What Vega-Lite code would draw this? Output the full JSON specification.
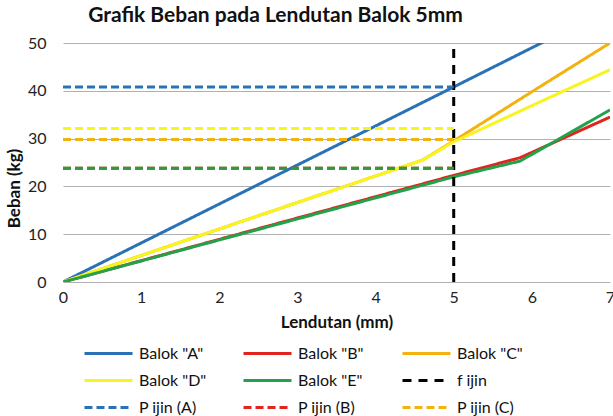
{
  "$schema": "https://vega.github.io/schema/vega-lite/v6.json",
  "autosize": {"type": "none"},
  "width": 547,
  "height": 239,
  "padding": {"left": 63, "top": 43, "right": 3, "bottom": 134},
  "background": "white",
  "config": {
    "font": "Lato",
    "view": {"stroke": null},
    "axis": {"labelFont": "Lato", "titleFont": "Lato", "labelColor": "#222", "titleColor": "#111"}
  },
  "title": {
    "text": "Grafik Beban pada Lendutan Balok 5mm",
    "fontSize": 21,
    "fontWeight": "bold",
    "font": "Lato",
    "color": "#111",
    "anchor": "middle",
    "dx": -61,
    "offset": 9
  },
  "data": {
    "values": [
      {"series": "Balok \"A\"", "x": 0, "y": 0},
      {"series": "Balok \"A\"", "x": 5, "y": 40.8},
      {"series": "Balok \"A\"", "x": 6, "y": 49.0},
      {"series": "Balok \"A\"", "x": 7, "y": 57.2},
      {"series": "Balok \"B\"", "x": 0, "y": 0},
      {"series": "Balok \"B\"", "x": 5, "y": 22.3},
      {"series": "Balok \"B\"", "x": 5.85, "y": 26.0},
      {"series": "Balok \"B\"", "x": 7, "y": 34.5},
      {"series": "Balok \"C\"", "x": 0, "y": 0},
      {"series": "Balok \"C\"", "x": 4.6, "y": 25.5},
      {"series": "Balok \"C\"", "x": 5, "y": 29.5},
      {"series": "Balok \"C\"", "x": 6, "y": 39.8},
      {"series": "Balok \"C\"", "x": 7, "y": 50},
      {"series": "Balok \"D\"", "x": 0, "y": 0},
      {"series": "Balok \"D\"", "x": 4.6, "y": 25.5},
      {"series": "Balok \"D\"", "x": 5, "y": 29.3},
      {"series": "Balok \"D\"", "x": 6, "y": 36.9},
      {"series": "Balok \"D\"", "x": 7, "y": 44.4},
      {"series": "Balok \"E\"", "x": 0, "y": 0},
      {"series": "Balok \"E\"", "x": 5, "y": 22.0},
      {"series": "Balok \"E\"", "x": 5.85, "y": 25.3},
      {"series": "Balok \"E\"", "x": 7, "y": 36.0},
      {"series": "f ijin", "x": 5, "y": 0},
      {"series": "f ijin", "x": 5, "y": 50},
      {"series": "P ijin (A)", "x": 0, "y": 40.8},
      {"series": "P ijin (A)", "x": 5, "y": 40.8},
      {"series": "P ijin (B)", "x": 0, "y": 23.8},
      {"series": "P ijin (B)", "x": 5, "y": 23.8},
      {"series": "P ijin (C)", "x": 0, "y": 29.8},
      {"series": "P ijin (C)", "x": 5, "y": 29.8},
      {"series": "P ijin (D)", "x": 0, "y": 32.1},
      {"series": "P ijin (D)", "x": 5, "y": 32.1},
      {"series": "P ijin (E)", "x": 0, "y": 23.8},
      {"series": "P ijin (E)", "x": 5, "y": 23.8}
    ]
  },
  "mark": {"type": "line", "strokeWidth": 3, "clip": true},
  "encoding": {
    "x": {
      "field": "x", "type": "quantitative",
      "scale": {"domain": [0, 7], "nice": false},
      "axis": {
        "values": [0, 1, 2, 3, 4, 5, 6, 7],
        "title": "Lendutan (mm)",
        "titleFontSize": 17, "titleFontWeight": "bold", "titlePadding": 9,
        "labelFontSize": 16, "labelPadding": 7,
        "grid": false, "domain": false, "ticks": false,
        "labelFlush": false
      }
    },
    "y": {
      "field": "y", "type": "quantitative",
      "scale": {"domain": [0, 50], "nice": false},
      "axis": {
        "values": [0, 10, 20, 30, 40, 50],
        "title": "Beban (kg)",
        "titleFontSize": 17, "titleFontWeight": "bold",
        "titleX": -40, "titleY": 145,
        "labelFontSize": 16, "labelPadding": 17,
        "grid": true, "gridColor": "#B0B0B0", "gridWidth": 1,
        "domain": false, "ticks": false
      }
    },
    "color": {
      "field": "series", "type": "nominal",
      "scale": {
        "domain": ["Balok \"A\"", "Balok \"B\"", "Balok \"C\"", "Balok \"D\"", "Balok \"E\"", "f ijin", "P ijin (A)", "P ijin (B)", "P ijin (C)", "P ijin (D)", "P ijin (E)"],
        "range": ["#2A72B5", "#E0241E", "#F2B20F", "#F9F41F", "#22A24A", "#000000", "#2A72B5", "#E0241E", "#F2B20F", "#F9F41F", "#2E9A3E"]
      },
      "legend": {
        "values": ["Balok \"A\"", "Balok \"B\"", "Balok \"C\"", "Balok \"D\"", "Balok \"E\"", "f ijin", "P ijin (A)", "P ijin (B)", "P ijin (C)"],
        "title": null,
        "orient": "none",
        "legendX": 20,
        "legendY": 297,
        "direction": "horizontal",
        "columns": 3,
        "gridAlign": "all",
        "columnPadding": 35,
        "rowPadding": 0,
        "clipHeight": 27,
        "symbolType": "stroke",
        "symbolSize": 2304,
        "symbolStrokeWidth": 3,
        "labelFontSize": 16,
        "labelFont": "Lato",
        "labelColor": "#111",
        "labelOffset": 5
      }
    },
    "strokeDash": {
      "field": "series", "type": "nominal",
      "scale": {
        "domain": ["Balok \"A\"", "Balok \"B\"", "Balok \"C\"", "Balok \"D\"", "Balok \"E\"", "f ijin", "P ijin (A)", "P ijin (B)", "P ijin (C)", "P ijin (D)", "P ijin (E)"],
        "range": [[1, 0], [1, 0], [1, 0], [1, 0], [1, 0], [9, 7], [8, 4], [8, 4], [8, 4], [8, 4], [8, 4]]
      },
      "legend": {
        "values": ["Balok \"A\"", "Balok \"B\"", "Balok \"C\"", "Balok \"D\"", "Balok \"E\"", "f ijin", "P ijin (A)", "P ijin (B)", "P ijin (C)"],
        "title": null,
        "orient": "none",
        "legendX": 20,
        "legendY": 297,
        "direction": "horizontal",
        "columns": 3,
        "gridAlign": "all",
        "columnPadding": 35,
        "rowPadding": 0,
        "clipHeight": 27,
        "symbolType": "stroke",
        "symbolSize": 2304,
        "symbolStrokeWidth": 3,
        "labelFontSize": 16,
        "labelFont": "Lato",
        "labelColor": "#111",
        "labelOffset": 5
      }
    }
  }
}
